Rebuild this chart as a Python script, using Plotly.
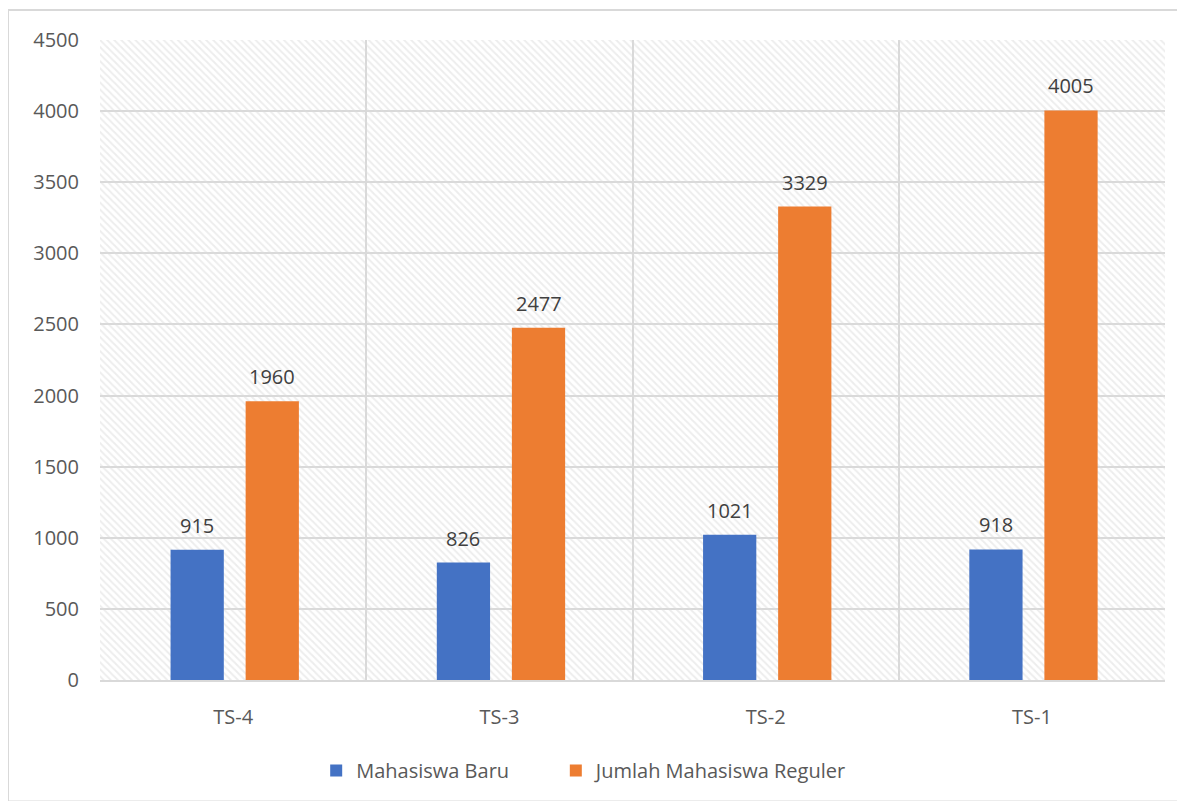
import plotly.graph_objects as go

categories = ["TS-4", "TS-3", "TS-2", "TS-1"]
mahasiswa_baru = [915, 826, 1021, 918]
jumlah_reguler = [1960, 2477, 3329, 4005]
series_names = ["Mahasiswa Baru", "Jumlah Mahasiswa Reguler"]
y_max = 4500
y_ticks = list(range(0, 4501, 500))

FONT = "Open Sans, Noto Sans, sans-serif"
FS = 20
BAR_W = 0.2
OFFSETS = [-0.235, 0.047]
COLORS = ["#4472C4", "#ED7D31"]

fig = go.Figure()

# patterned plot background
fig.add_trace(go.Bar(
    x=categories, y=[y_max] * len(categories), width=1, offset=-0.5,
    marker=dict(color="rgba(0,0,0,0)", line=dict(width=0),
                pattern=dict(shape="\\", fgcolor="#dcdcdc", bgcolor="rgba(0,0,0,0)",
                             size=5, solidity=0.4)),
    showlegend=False, hoverinfo="skip",
))

annotations = []
for k, (vals, name, leg) in enumerate(zip([mahasiswa_baru, jumlah_reguler], series_names,
                                          ["legend", "legend2"])):
    fig.add_trace(go.Bar(
        x=categories, y=vals, name=name, legend=leg,
        width=BAR_W, offset=OFFSETS[k], marker=dict(color=COLORS[k], line=dict(width=0)),
    ))
    for i, v in enumerate(vals):
        annotations.append(dict(
            x=i + OFFSETS[k] + BAR_W / 2, y=v, xref="x", yref="y", text=str(v),
            showarrow=False, yanchor="bottom", xanchor="center", yshift=9,
            font=dict(size=FS, color="#404040", family=FONT),
        ))

leg_common = dict(orientation="h", y=-0.111, yanchor="top", xanchor="left",
                  font=dict(size=FS, color="#595959"), itemwidth=30, bgcolor="rgba(0,0,0,0)")

fig.update_layout(
    width=1185, height=801,
    barmode="overlay",
    paper_bgcolor="white", plot_bgcolor="white",
    margin=dict(l=92, r=28, t=32, b=129, autoexpand=False),
    font=dict(family=FONT, size=FS, color="#595959"),
    legend=dict(x=0.203, **leg_common),
    legend2=dict(x=0.428, **leg_common),
    annotations=annotations,
    xaxis=dict(type="category", range=[-0.5, 3.5], tickson="boundaries", showgrid=True,
               gridcolor="#d9d9d9", gridwidth=2, ticks="", showline=True, linecolor="#d9d9d9",
               linewidth=2, ticklabelstandoff=18, automargin=False,
               tickfont=dict(size=FS, color="#595959")),
    yaxis=dict(range=[0, y_max], tickvals=y_ticks, showgrid=True, gridcolor="#d9d9d9",
               gridwidth=2, zeroline=False, showline=False, ticks="", ticklabelstandoff=20,
               automargin=False, tickfont=dict(size=FS, color="#595959")),
    shapes=[dict(type="rect", xref="paper", yref="paper", x0=-0.0864, x1=1.018, y0=-0.19, y1=1.047,
                 line=dict(color="#d9d9d9", width=2), fillcolor="rgba(0,0,0,0)", layer="below")],
)

fig.write_html("out.html")
